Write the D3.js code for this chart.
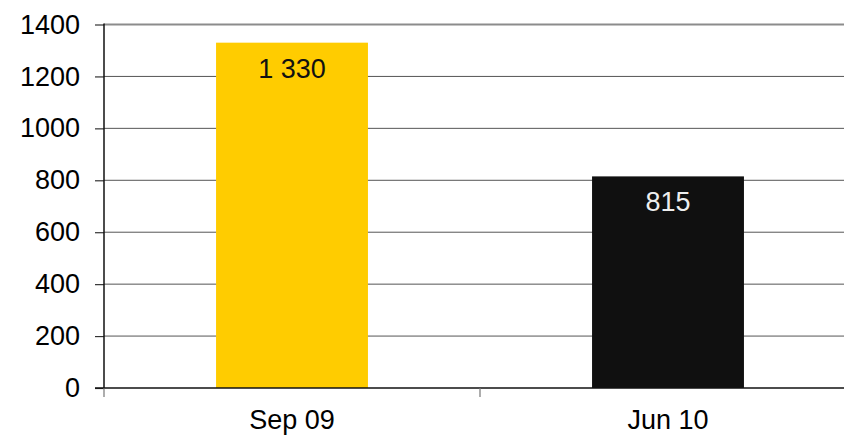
<!DOCTYPE html>
<html>
<head>
<meta charset="utf-8">
<script src="https://cdn.jsdelivr.net/npm/d3@7"></script>
<style>
  body { margin: 0; background: #fff; overflow: hidden; }
  text { font-family: "Liberation Sans", Arial, sans-serif; }
</style>
</head>
<body>
<script>
let categories = ["Sep 09", "Jun 10"];
let values = [1330, 815];
let labels = ["1 330", "815"];
let yTicks = [0, 200, 400, 600, 800, 1000, 1200, 1400];

let svgWidth = 844;
let svgHeight = 437;

let svg = d3.select("body")
    .append("svg")
    .attr("width", svgWidth)
    .attr("height", svgHeight)

// plot area runs past the right edge of the window, like the original
let plotLeft = 104, plotRight = 856, plotTop = 24.5, plotBottom = 388;

let x = d3.scaleBand()
    .domain(categories)
    .range([plotLeft, plotRight])
    .paddingInner(0.596)
    .paddingOuter(0.298);

let y = d3.scaleLinear()
    .domain([0, 1400])
    .range([plotBottom, plotTop]);

// gridlines
svg.append("g")
    .selectAll("line")
    .data(yTicks.filter(d => d > 0 && d < 1400))
    .enter()
    .append("line")
    .attr("x1", plotLeft)
    .attr("x2", plotRight)
    .attr("y1", d => y(d))
    .attr("y2", d => y(d))
    .attr("stroke", "#555")
    .attr("stroke-width", 1)

svg.append("line")
    .attr("x1", plotLeft)
    .attr("x2", plotRight)
    .attr("y1", y(1400))
    .attr("y2", y(1400))
    .attr("stroke", "#8c8c8c")
    .attr("stroke-width", 2.2)

// bars
let colors = ["#ffcc00", "#101010"];
svg.append("g")
    .selectAll("rect")
    .data(values)
    .enter()
    .append("rect")
    .attr("x", (d, i) => x(categories[i]))
    .attr("y", d => y(d))
    .attr("width", x.bandwidth())
    .attr("height", d => y(0) - y(d))
    .attr("fill", (d, i) => colors[i])

// value labels
svg.append("g")
    .selectAll("text")
    .data(values)
    .enter()
    .append("text")
    .attr("x", (d, i) => x(categories[i]) + x.bandwidth() / 2)
    .attr("y", d => y(d) + 35)
    .attr("text-anchor", "middle")
    .attr("font-size", "27px")
    .attr("fill", (d, i) => i == 0 ? "#111" : "#eee")
    .text((d, i) => labels[i])

// y axis
let leftAxis = d3.axisLeft(y)
    .tickValues(yTicks)
    .tickSize(9)
    .tickPadding(15)
    .tickFormat(d3.format("d"));

let yAxisG = svg.append("g")
    .attr("transform", `translate(${plotLeft},0)`)
    .call(leftAxis)
yAxisG.select(".domain").remove();
yAxisG.selectAll(".tick line").attr("stroke", "#333").attr("stroke-width", 1.2);
yAxisG.selectAll("text")
    .attr("font-size", "27px")
    .attr("fill", "#000")
    .attr("font-family", "Liberation Sans, Arial, sans-serif");

svg.append("line")
    .attr("x1", plotLeft)
    .attr("x2", plotLeft)
    .attr("y1", plotTop - 1)
    .attr("y2", plotBottom + 1)
    .attr("stroke", "#111")
    .attr("stroke-width", 1.5)

// x axis
svg.append("line")
    .attr("x1", plotLeft - 9)
    .attr("x2", plotRight)
    .attr("y1", plotBottom)
    .attr("y2", plotBottom)
    .attr("stroke", "#111")
    .attr("stroke-width", 1.5)

svg.append("g")
    .selectAll("line")
    .data(d3.range(categories.length + 1))
    .enter()
    .append("line")
    .attr("x1", i => plotLeft + i * x.step())
    .attr("x2", i => plotLeft + i * x.step())
    .attr("y1", plotBottom)
    .attr("y2", plotBottom + 9)
    .attr("stroke", "#777")
    .attr("stroke-width", 1.2)

svg.append("g")
    .selectAll("text")
    .data(categories)
    .enter()
    .append("text")
    .attr("x", d => x(d) + x.bandwidth() / 2)
    .attr("y", 429)
    .attr("text-anchor", "middle")
    .attr("font-size", "27px")
    .attr("fill", "#000")
    .text(d => d)
</script>
</body>
</html>
